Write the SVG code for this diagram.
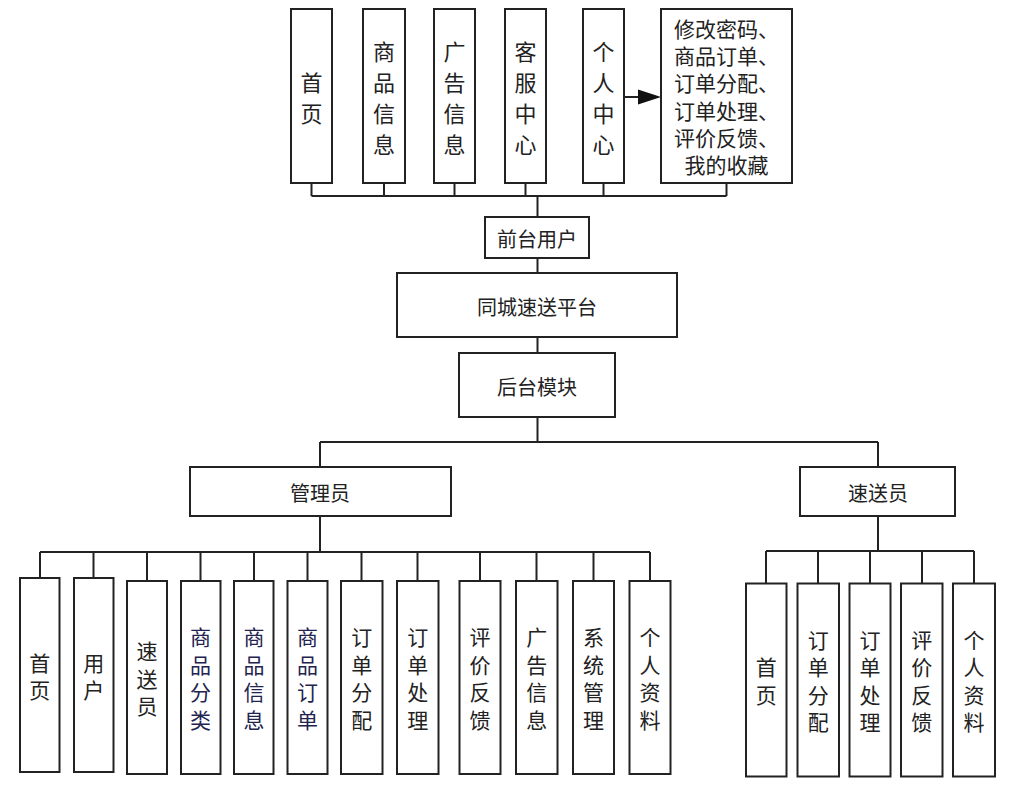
<svg xmlns="http://www.w3.org/2000/svg" width="1026" height="788" viewBox="0 0 1026 788">
<defs>
<style>
.box{fill:#fff;stroke:#222;stroke-width:2}
.ln{fill:none;stroke:#222;stroke-width:2}
.t{font-family:"Noto Sans CJK SC","Liberation Sans",sans-serif;fill:#222;text-anchor:middle;dominant-baseline:central}
.big{font-size:22px}
.mid{font-size:20px}
.sm{font-size:21px}
.blue{fill:#23234f}
</style>
</defs>
<rect width="1026" height="788" fill="#fff"/>
<g id="connectors">
<path class="ln" d="M311.5,183V196M384,183V196M454.5,183V196M525.5,183V196M603.5,183V196M726.5,183V196M311.5,196H726.5"/>
<path class="ln" d="M537.5,196V217M537.5,258V273M537.5,337V353M537.5,417V442"/>
<path class="ln" d="M320,442H878M320,442V467M878,442V467"/>
<path class="ln" d="M320,516V552M40,552H650M40,552V578M93.5,552V578M147,552V581M200.5,552V581M254,552V581M307.5,552V581M361.5,552V581M417.5,552V581M480,552V581M536.5,552V581M593.5,552V581M650,552V581"/>
<path class="ln" d="M878,516V551M766,551H974M766,551V583M818,551V583M870,551V583M922,551V583M974,551V583"/>
<line x1="624" y1="97" x2="639" y2="97" class="ln"/>
<polygon points="638,89.5 661,97 638,104.5" fill="#111"/>
</g>
<g id="n-home"><rect class="box" x="291" y="9" width="41" height="174"/><text class="t big"><tspan x="311.5" y="80.5">首</tspan><tspan x="311.5" y="111.5">页</tspan></text></g>
<g id="n-goods"><rect class="box" x="363" y="9" width="42" height="174"/><text class="t big"><tspan x="384" y="49.5">商</tspan><tspan x="384" y="80.5">品</tspan><tspan x="384" y="111.5">信</tspan><tspan x="384" y="142.5">息</tspan></text></g>
<g id="n-ad"><rect class="box" x="434" y="9" width="41" height="174"/><text class="t big"><tspan x="454.5" y="49.5">广</tspan><tspan x="454.5" y="80.5">告</tspan><tspan x="454.5" y="111.5">信</tspan><tspan x="454.5" y="142.5">息</tspan></text></g>
<g id="n-service"><rect class="box" x="505" y="9" width="41" height="174"/><text class="t big"><tspan x="525.5" y="49.5">客</tspan><tspan x="525.5" y="80.5">服</tspan><tspan x="525.5" y="111.5">中</tspan><tspan x="525.5" y="142.5">心</tspan></text></g>
<g id="n-personal"><rect class="box" x="583" y="9" width="41" height="174"/><text class="t big"><tspan x="603.5" y="49.5">个</tspan><tspan x="603.5" y="80.5">人</tspan><tspan x="603.5" y="111.5">中</tspan><tspan x="603.5" y="142.5">心</tspan></text></g>
<g id="n-personal-items"><rect class="box" x="661" y="9" width="131" height="174"/><text class="t sm"><tspan x="726.5" y="28">修改密码、</tspan><tspan x="726.5" y="55.2">商品订单、</tspan><tspan x="726.5" y="82.4">订单分配、</tspan><tspan x="726.5" y="109.6">订单处理、</tspan><tspan x="726.5" y="136.8">评价反馈、</tspan><tspan x="726.5" y="164">我的收藏</tspan></text></g>
<g id="n-front"><rect class="box" x="485" y="217" width="104" height="41"/><text class="t mid" x="537" y="238">前台用户</text></g>
<g id="n-platform"><rect class="box" x="397" y="273" width="280" height="64"/><text class="t mid" x="537" y="306">同城速送平台</text></g>
<g id="n-backend"><rect class="box" x="459" y="353" width="156" height="64"/><text class="t mid" x="537" y="386">后台模块</text></g>
<g id="n-admin"><rect class="box" x="190" y="467" width="261" height="49"/><text class="t mid" x="320" y="492">管理员</text></g>
<g id="n-courier"><rect class="box" x="800" y="467" width="155" height="49"/><text class="t mid" x="878" y="492">速送员</text></g>
<g id="a-home"><rect class="box" x="20" y="578" width="39.5" height="194"/><text class="t sm"><tspan x="39.75" y="661.5">首</tspan><tspan x="39.75" y="689">页</tspan></text></g>
<g id="a-user"><rect class="box" x="74" y="578" width="39.5" height="194"/><text class="t sm"><tspan x="93.75" y="661.5">用</tspan><tspan x="93.75" y="689">户</tspan></text></g>
<g id="a-courier"><rect class="box" x="127" y="581" width="40" height="193"/><text class="t sm"><tspan x="147" y="650">速</tspan><tspan x="147" y="677.5">送</tspan><tspan x="147" y="705">员</tspan></text></g>
<g id="a-category"><rect class="box" x="181" y="581" width="39.5" height="193"/><text class="t sm blue"><tspan x="200.5" y="636">商</tspan><tspan x="200.5" y="663.5">品</tspan><tspan x="200.5" y="691">分</tspan><tspan x="200.5" y="718.5">类</tspan></text></g>
<g id="a-goods"><rect class="box" x="234" y="581" width="39.5" height="193"/><text class="t sm blue"><tspan x="254" y="636">商</tspan><tspan x="254" y="663.5">品</tspan><tspan x="254" y="691">信</tspan><tspan x="254" y="718.5">息</tspan></text></g>
<g id="a-order"><rect class="box" x="287.5" y="581" width="40" height="193"/><text class="t sm blue"><tspan x="307.5" y="636">商</tspan><tspan x="307.5" y="663.5">品</tspan><tspan x="307.5" y="691">订</tspan><tspan x="307.5" y="718.5">单</tspan></text></g>
<g id="a-assign"><rect class="box" x="341" y="581" width="41.5" height="193"/><text class="t sm"><tspan x="361.75" y="636">订</tspan><tspan x="361.75" y="663.5">单</tspan><tspan x="361.75" y="691">分</tspan><tspan x="361.75" y="718.5">配</tspan></text></g>
<g id="a-process"><rect class="box" x="397" y="581" width="41.5" height="193"/><text class="t sm"><tspan x="417.75" y="636">订</tspan><tspan x="417.75" y="663.5">单</tspan><tspan x="417.75" y="691">处</tspan><tspan x="417.75" y="718.5">理</tspan></text></g>
<g id="a-feedback"><rect class="box" x="459.5" y="581" width="41" height="193"/><text class="t sm"><tspan x="480" y="636">评</tspan><tspan x="480" y="663.5">价</tspan><tspan x="480" y="691">反</tspan><tspan x="480" y="718.5">馈</tspan></text></g>
<g id="a-ad"><rect class="box" x="516" y="581" width="41.5" height="193"/><text class="t sm"><tspan x="536.75" y="636">广</tspan><tspan x="536.75" y="663.5">告</tspan><tspan x="536.75" y="691">信</tspan><tspan x="536.75" y="718.5">息</tspan></text></g>
<g id="a-system"><rect class="box" x="573" y="581" width="41" height="193"/><text class="t sm"><tspan x="593.5" y="636">系</tspan><tspan x="593.5" y="663.5">统</tspan><tspan x="593.5" y="691">管</tspan><tspan x="593.5" y="718.5">理</tspan></text></g>
<g id="a-profile"><rect class="box" x="629.5" y="581" width="41" height="193"/><text class="t sm"><tspan x="650" y="636">个</tspan><tspan x="650" y="663.5">人</tspan><tspan x="650" y="691">资</tspan><tspan x="650" y="718.5">料</tspan></text></g>
<g id="c-home"><rect class="box" x="746" y="583.5" width="40.5" height="193"/><text class="t sm"><tspan x="766.25" y="666">首</tspan><tspan x="766.25" y="693.5">页</tspan></text></g>
<g id="c-assign"><rect class="box" x="797.5" y="583.5" width="41.5" height="193"/><text class="t sm"><tspan x="818.25" y="638.5">订</tspan><tspan x="818.25" y="666">单</tspan><tspan x="818.25" y="693.5">分</tspan><tspan x="818.25" y="721">配</tspan></text></g>
<g id="c-process"><rect class="box" x="849.5" y="583.5" width="41" height="193"/><text class="t sm"><tspan x="870" y="638.5">订</tspan><tspan x="870" y="666">单</tspan><tspan x="870" y="693.5">处</tspan><tspan x="870" y="721">理</tspan></text></g>
<g id="c-feedback"><rect class="box" x="901" y="583.5" width="41.5" height="193"/><text class="t sm"><tspan x="921.75" y="638.5">评</tspan><tspan x="921.75" y="666">价</tspan><tspan x="921.75" y="693.5">反</tspan><tspan x="921.75" y="721">馈</tspan></text></g>
<g id="c-profile"><rect class="box" x="953" y="583.5" width="42" height="193"/><text class="t sm"><tspan x="974" y="638.5">个</tspan><tspan x="974" y="666">人</tspan><tspan x="974" y="693.5">资</tspan><tspan x="974" y="721">料</tspan></text></g>
</svg>
